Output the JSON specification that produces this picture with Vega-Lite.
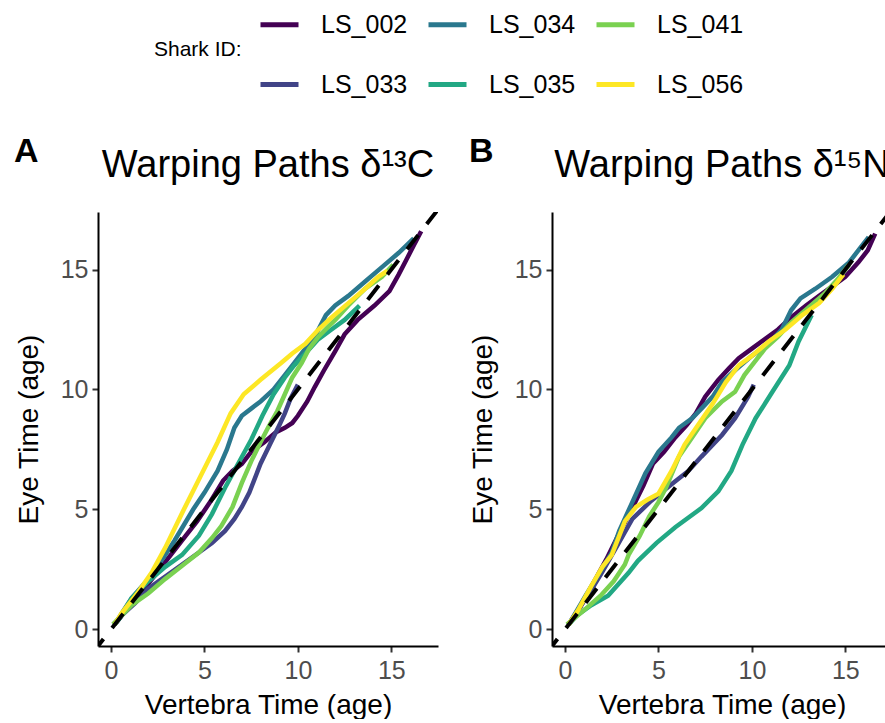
{
  "$schema": "https://vega.github.io/schema/vega-lite/v6.json",
  "padding": {"left": 14, "top": 3, "right": 0, "bottom": 0},
  "background": "white",
  "config": {
    "font": "Liberation Sans",
    "view": {"stroke": null},
    "axis": {"labelFont": "Liberation Sans", "titleFont": "Liberation Sans", "labelFontSize": 25, "labelColor": "#4d4d4d", "titleFontSize": 28, "titleFontWeight": "normal", "titleColor": "black", "domainColor": "black", "domainWidth": 2, "tickColor": "#333333", "tickWidth": 2, "tickSize": 6, "grid": false},
    "axisX": {"labelPadding": 6, "titlePadding": 8},
    "axisY": {"labelPadding": 4, "titlePadding": 17},
    "legend": {
      "orient": "none", "legendX": 56, "legendY": -209,
      "direction": "horizontal", "columns": 3,
      "titleOrient": "left", "titleFontSize": 21, "titleFontWeight": "normal", "titleColor": "black", "titleFont": "Liberation Sans", "titlePadding": 16, "titleAnchor": "middle", "titleBaseline": "middle",
      "labelFontSize": 25, "labelFont": "Liberation Sans", "labelColor": "black", "labelOffset": 20,
      "symbolType": "stroke", "symbolSize": 1444, "symbolStrokeWidth": 5, "symbolOpacity": 1,
      "rowPadding": 25, "columnPadding": 10, "padding": 0
    }
  },
  "data": {"values": [
    {"p":"C","id":"LS_002","x":0.2,"y":0.2},{"p":"C","id":"LS_002","x":1.0,"y":1.0},{"p":"C","id":"LS_002","x":2.0,"y":1.9},{"p":"C","id":"LS_002","x":3.0,"y":2.9},{"p":"C","id":"LS_002","x":4.0,"y":3.9},{"p":"C","id":"LS_002","x":4.6,"y":4.5},{"p":"C","id":"LS_002","x":5.3,"y":5.3},{"p":"C","id":"LS_002","x":6.0,"y":6.2},{"p":"C","id":"LS_002","x":6.5,"y":6.6},{"p":"C","id":"LS_002","x":7.0,"y":6.9},{"p":"C","id":"LS_002","x":7.5,"y":7.4},{"p":"C","id":"LS_002","x":8.2,"y":7.8},{"p":"C","id":"LS_002","x":8.8,"y":8.2},{"p":"C","id":"LS_002","x":9.3,"y":8.4},{"p":"C","id":"LS_002","x":9.7,"y":8.6},{"p":"C","id":"LS_002","x":10.0,"y":8.9},{"p":"C","id":"LS_002","x":10.5,"y":9.5},{"p":"C","id":"LS_002","x":10.9,"y":10.1},{"p":"C","id":"LS_002","x":11.4,"y":10.8},{"p":"C","id":"LS_002","x":12.0,"y":11.6},{"p":"C","id":"LS_002","x":12.5,"y":12.3},{"p":"C","id":"LS_002","x":13.2,"y":12.9},{"p":"C","id":"LS_002","x":14.1,"y":13.5},{"p":"C","id":"LS_002","x":14.9,"y":14.1},{"p":"C","id":"LS_002","x":15.4,"y":14.8},{"p":"C","id":"LS_002","x":15.8,"y":15.4},{"p":"C","id":"LS_002","x":16.2,"y":16.0},{"p":"C","id":"LS_002","x":16.6,"y":16.6},
    {"p":"C","id":"LS_033","x":0.2,"y":0.2},{"p":"C","id":"LS_033","x":0.6,"y":0.6},{"p":"C","id":"LS_033","x":1.3,"y":1.1},{"p":"C","id":"LS_033","x":2.0,"y":1.7},{"p":"C","id":"LS_033","x":2.9,"y":2.2},{"p":"C","id":"LS_033","x":3.8,"y":2.7},{"p":"C","id":"LS_033","x":4.7,"y":3.2},{"p":"C","id":"LS_033","x":5.4,"y":3.6},{"p":"C","id":"LS_033","x":6.1,"y":4.1},{"p":"C","id":"LS_033","x":6.6,"y":4.6},{"p":"C","id":"LS_033","x":7.0,"y":5.1},{"p":"C","id":"LS_033","x":7.4,"y":5.7},{"p":"C","id":"LS_033","x":8.0,"y":6.9},{"p":"C","id":"LS_033","x":8.5,"y":7.7},{"p":"C","id":"LS_033","x":9.0,"y":8.5},{"p":"C","id":"LS_033","x":9.3,"y":9.0},{"p":"C","id":"LS_033","x":9.6,"y":9.6},{"p":"C","id":"LS_033","x":10.0,"y":10.2},
    {"p":"C","id":"LS_034","x":0.2,"y":0.2},{"p":"C","id":"LS_034","x":0.6,"y":0.7},{"p":"C","id":"LS_034","x":1.1,"y":1.3},{"p":"C","id":"LS_034","x":2.0,"y":2.1},{"p":"C","id":"LS_034","x":2.9,"y":3.1},{"p":"C","id":"LS_034","x":3.4,"y":3.7},{"p":"C","id":"LS_034","x":4.4,"y":5.0},{"p":"C","id":"LS_034","x":5.0,"y":5.7},{"p":"C","id":"LS_034","x":5.7,"y":6.6},{"p":"C","id":"LS_034","x":6.2,"y":7.5},{"p":"C","id":"LS_034","x":6.6,"y":8.4},{"p":"C","id":"LS_034","x":7.0,"y":8.9},{"p":"C","id":"LS_034","x":7.5,"y":9.2},{"p":"C","id":"LS_034","x":8.0,"y":9.5},{"p":"C","id":"LS_034","x":8.7,"y":10.0},{"p":"C","id":"LS_034","x":9.3,"y":10.6},{"p":"C","id":"LS_034","x":9.8,"y":11.1},{"p":"C","id":"LS_034","x":10.3,"y":11.6},{"p":"C","id":"LS_034","x":10.8,"y":12.0},{"p":"C","id":"LS_034","x":11.1,"y":12.5},{"p":"C","id":"LS_034","x":11.5,"y":13.1},{"p":"C","id":"LS_034","x":12.0,"y":13.5},{"p":"C","id":"LS_034","x":12.7,"y":13.9},{"p":"C","id":"LS_034","x":13.6,"y":14.5},{"p":"C","id":"LS_034","x":14.5,"y":15.1},{"p":"C","id":"LS_034","x":15.4,"y":15.7},{"p":"C","id":"LS_034","x":16.2,"y":16.3},
    {"p":"C","id":"LS_035","x":0.2,"y":0.2},{"p":"C","id":"LS_035","x":0.5,"y":0.5},{"p":"C","id":"LS_035","x":1.1,"y":1.3},{"p":"C","id":"LS_035","x":2.0,"y":2.0},{"p":"C","id":"LS_035","x":2.9,"y":2.6},{"p":"C","id":"LS_035","x":3.8,"y":3.1},{"p":"C","id":"LS_035","x":4.7,"y":3.9},{"p":"C","id":"LS_035","x":5.4,"y":4.8},{"p":"C","id":"LS_035","x":6.1,"y":5.9},{"p":"C","id":"LS_035","x":6.8,"y":6.9},{"p":"C","id":"LS_035","x":7.5,"y":7.9},{"p":"C","id":"LS_035","x":8.1,"y":8.9},{"p":"C","id":"LS_035","x":8.7,"y":9.8},{"p":"C","id":"LS_035","x":9.3,"y":10.5},{"p":"C","id":"LS_035","x":9.8,"y":11.0},{"p":"C","id":"LS_035","x":10.4,"y":11.5},{"p":"C","id":"LS_035","x":11.1,"y":12.1},{"p":"C","id":"LS_035","x":11.8,"y":12.5},{"p":"C","id":"LS_035","x":12.5,"y":12.9},{"p":"C","id":"LS_035","x":13.3,"y":13.5},
    {"p":"C","id":"LS_041","x":0.1,"y":0.2},{"p":"C","id":"LS_041","x":1.1,"y":1.0},{"p":"C","id":"LS_041","x":2.0,"y":1.5},{"p":"C","id":"LS_041","x":2.9,"y":2.1},{"p":"C","id":"LS_041","x":3.8,"y":2.65},{"p":"C","id":"LS_041","x":4.7,"y":3.2},{"p":"C","id":"LS_041","x":5.4,"y":3.8},{"p":"C","id":"LS_041","x":5.9,"y":4.3},{"p":"C","id":"LS_041","x":6.5,"y":5.1},{"p":"C","id":"LS_041","x":7.0,"y":6.1},{"p":"C","id":"LS_041","x":7.5,"y":7.0},{"p":"C","id":"LS_041","x":8.0,"y":7.8},{"p":"C","id":"LS_041","x":8.4,"y":8.4},{"p":"C","id":"LS_041","x":8.9,"y":9.1},{"p":"C","id":"LS_041","x":9.3,"y":9.8},{"p":"C","id":"LS_041","x":9.7,"y":10.5},{"p":"C","id":"LS_041","x":10.2,"y":11.1},{"p":"C","id":"LS_041","x":10.6,"y":11.7},{"p":"C","id":"LS_041","x":11.1,"y":12.2},{"p":"C","id":"LS_041","x":11.6,"y":12.6},{"p":"C","id":"LS_041","x":12.0,"y":12.9},{"p":"C","id":"LS_041","x":12.7,"y":13.5},{"p":"C","id":"LS_041","x":13.6,"y":14.2},{"p":"C","id":"LS_041","x":14.5,"y":14.7},{"p":"C","id":"LS_041","x":15.1,"y":15.2},
    {"p":"C","id":"LS_056","x":0.2,"y":0.2},{"p":"C","id":"LS_056","x":0.55,"y":0.65},{"p":"C","id":"LS_056","x":1.45,"y":1.55},{"p":"C","id":"LS_056","x":2.2,"y":2.4},{"p":"C","id":"LS_056","x":2.9,"y":3.4},{"p":"C","id":"LS_056","x":3.9,"y":5.0},{"p":"C","id":"LS_056","x":4.8,"y":6.4},{"p":"C","id":"LS_056","x":5.7,"y":7.8},{"p":"C","id":"LS_056","x":6.4,"y":9.0},{"p":"C","id":"LS_056","x":7.1,"y":9.8},{"p":"C","id":"LS_056","x":8.0,"y":10.4},{"p":"C","id":"LS_056","x":9.1,"y":11.1},{"p":"C","id":"LS_056","x":9.7,"y":11.5},{"p":"C","id":"LS_056","x":10.4,"y":11.9},{"p":"C","id":"LS_056","x":11.1,"y":12.5},{"p":"C","id":"LS_056","x":11.8,"y":13.0},{"p":"C","id":"LS_056","x":12.7,"y":13.6},{"p":"C","id":"LS_056","x":13.6,"y":14.2},{"p":"C","id":"LS_056","x":14.3,"y":14.7},{"p":"C","id":"LS_056","x":14.8,"y":14.95},
    {"p":"N","id":"LS_002","x":0.2,"y":0.2},{"p":"N","id":"LS_002","x":0.8,"y":0.9},{"p":"N","id":"LS_002","x":1.5,"y":1.9},{"p":"N","id":"LS_002","x":2.2,"y":2.9},{"p":"N","id":"LS_002","x":2.9,"y":4.0},{"p":"N","id":"LS_002","x":3.5,"y":4.9},{"p":"N","id":"LS_002","x":4.2,"y":6.0},{"p":"N","id":"LS_002","x":4.7,"y":6.9},{"p":"N","id":"LS_002","x":5.3,"y":7.4},{"p":"N","id":"LS_002","x":5.9,"y":8.0},{"p":"N","id":"LS_002","x":6.5,"y":8.5},{"p":"N","id":"LS_002","x":7.0,"y":9.0},{"p":"N","id":"LS_002","x":7.5,"y":9.7},{"p":"N","id":"LS_002","x":8.2,"y":10.4},{"p":"N","id":"LS_002","x":8.8,"y":10.9},{"p":"N","id":"LS_002","x":9.3,"y":11.3},{"p":"N","id":"LS_002","x":10.0,"y":11.7},{"p":"N","id":"LS_002","x":10.7,"y":12.1},{"p":"N","id":"LS_002","x":11.4,"y":12.5},{"p":"N","id":"LS_002","x":12.1,"y":13.0},{"p":"N","id":"LS_002","x":12.9,"y":13.5},{"p":"N","id":"LS_002","x":13.6,"y":13.9},{"p":"N","id":"LS_002","x":14.3,"y":14.3},{"p":"N","id":"LS_002","x":15.0,"y":14.7},{"p":"N","id":"LS_002","x":15.7,"y":15.3},{"p":"N","id":"LS_002","x":16.2,"y":15.8},{"p":"N","id":"LS_002","x":16.6,"y":16.5},
    {"p":"N","id":"LS_033","x":0.2,"y":0.2},{"p":"N","id":"LS_033","x":0.6,"y":0.7},{"p":"N","id":"LS_033","x":1.3,"y":1.5},{"p":"N","id":"LS_033","x":2.0,"y":2.4},{"p":"N","id":"LS_033","x":2.8,"y":3.5},{"p":"N","id":"LS_033","x":3.6,"y":4.6},{"p":"N","id":"LS_033","x":4.6,"y":5.35},{"p":"N","id":"LS_033","x":5.7,"y":6.05},{"p":"N","id":"LS_033","x":6.6,"y":6.6},{"p":"N","id":"LS_033","x":7.3,"y":7.2},{"p":"N","id":"LS_033","x":8.4,"y":8.1},{"p":"N","id":"LS_033","x":9.1,"y":8.8},{"p":"N","id":"LS_033","x":9.8,"y":9.7},{"p":"N","id":"LS_033","x":10.1,"y":10.2},
    {"p":"N","id":"LS_034","x":0.2,"y":0.2},{"p":"N","id":"LS_034","x":0.5,"y":0.6},{"p":"N","id":"LS_034","x":1.1,"y":1.4},{"p":"N","id":"LS_034","x":1.8,"y":2.3},{"p":"N","id":"LS_034","x":2.5,"y":3.2},{"p":"N","id":"LS_034","x":2.9,"y":4.1},{"p":"N","id":"LS_034","x":3.6,"y":5.3},{"p":"N","id":"LS_034","x":4.3,"y":6.5},{"p":"N","id":"LS_034","x":5.0,"y":7.4},{"p":"N","id":"LS_034","x":5.7,"y":8.0},{"p":"N","id":"LS_034","x":6.1,"y":8.4},{"p":"N","id":"LS_034","x":6.8,"y":8.8},{"p":"N","id":"LS_034","x":7.3,"y":9.2},{"p":"N","id":"LS_034","x":7.9,"y":9.7},{"p":"N","id":"LS_034","x":8.4,"y":10.3},{"p":"N","id":"LS_034","x":9.1,"y":10.8},{"p":"N","id":"LS_034","x":10.0,"y":11.4},{"p":"N","id":"LS_034","x":10.9,"y":11.9},{"p":"N","id":"LS_034","x":11.6,"y":12.5},{"p":"N","id":"LS_034","x":12.1,"y":13.3},{"p":"N","id":"LS_034","x":12.6,"y":13.8},{"p":"N","id":"LS_034","x":13.4,"y":14.2},{"p":"N","id":"LS_034","x":14.3,"y":14.7},{"p":"N","id":"LS_034","x":15.2,"y":15.3},{"p":"N","id":"LS_034","x":15.8,"y":15.9},{"p":"N","id":"LS_034","x":16.25,"y":16.35},
    {"p":"N","id":"LS_035","x":0.2,"y":0.2},{"p":"N","id":"LS_035","x":0.6,"y":0.55},{"p":"N","id":"LS_035","x":1.4,"y":1.0},{"p":"N","id":"LS_035","x":2.3,"y":1.4},{"p":"N","id":"LS_035","x":3.4,"y":2.35},{"p":"N","id":"LS_035","x":3.9,"y":2.85},{"p":"N","id":"LS_035","x":4.9,"y":3.6},{"p":"N","id":"LS_035","x":5.9,"y":4.25},{"p":"N","id":"LS_035","x":7.3,"y":5.05},{"p":"N","id":"LS_035","x":8.2,"y":5.75},{"p":"N","id":"LS_035","x":8.9,"y":6.6},{"p":"N","id":"LS_035","x":9.5,"y":7.7},{"p":"N","id":"LS_035","x":10.2,"y":8.8},{"p":"N","id":"LS_035","x":11.1,"y":9.9},{"p":"N","id":"LS_035","x":12.0,"y":11.0},{"p":"N","id":"LS_035","x":12.5,"y":12.0},{"p":"N","id":"LS_035","x":13.2,"y":13.1},
    {"p":"N","id":"LS_041","x":0.1,"y":0.2},{"p":"N","id":"LS_041","x":1.1,"y":0.85},{"p":"N","id":"LS_041","x":1.9,"y":1.4},{"p":"N","id":"LS_041","x":2.6,"y":2.0},{"p":"N","id":"LS_041","x":3.2,"y":2.7},{"p":"N","id":"LS_041","x":3.4,"y":3.1},{"p":"N","id":"LS_041","x":4.0,"y":3.9},{"p":"N","id":"LS_041","x":4.5,"y":4.7},{"p":"N","id":"LS_041","x":5.0,"y":5.3},{"p":"N","id":"LS_041","x":5.4,"y":5.9},{"p":"N","id":"LS_041","x":6.1,"y":7.2},{"p":"N","id":"LS_041","x":6.8,"y":8.0},{"p":"N","id":"LS_041","x":7.5,"y":8.8},{"p":"N","id":"LS_041","x":8.4,"y":9.5},{"p":"N","id":"LS_041","x":9.1,"y":9.9},{"p":"N","id":"LS_041","x":9.6,"y":10.6},{"p":"N","id":"LS_041","x":10.2,"y":11.2},{"p":"N","id":"LS_041","x":10.7,"y":11.7},{"p":"N","id":"LS_041","x":11.4,"y":12.2},{"p":"N","id":"LS_041","x":12.1,"y":12.8},{"p":"N","id":"LS_041","x":13.0,"y":13.4},{"p":"N","id":"LS_041","x":13.9,"y":14.0},{"p":"N","id":"LS_041","x":14.6,"y":14.6},{"p":"N","id":"LS_041","x":15.2,"y":15.2},
    {"p":"N","id":"LS_056","x":0.2,"y":0.2},{"p":"N","id":"LS_056","x":0.7,"y":0.8},{"p":"N","id":"LS_056","x":1.4,"y":1.8},{"p":"N","id":"LS_056","x":2.0,"y":2.6},{"p":"N","id":"LS_056","x":2.5,"y":3.1},{"p":"N","id":"LS_056","x":3.2,"y":4.5},{"p":"N","id":"LS_056","x":3.8,"y":5.1},{"p":"N","id":"LS_056","x":4.4,"y":5.4},{"p":"N","id":"LS_056","x":5.0,"y":5.65},{"p":"N","id":"LS_056","x":5.7,"y":6.6},{"p":"N","id":"LS_056","x":6.4,"y":7.7},{"p":"N","id":"LS_056","x":7.1,"y":8.5},{"p":"N","id":"LS_056","x":7.9,"y":9.4},{"p":"N","id":"LS_056","x":8.6,"y":10.3},{"p":"N","id":"LS_056","x":9.3,"y":11.0},{"p":"N","id":"LS_056","x":10.0,"y":11.4},{"p":"N","id":"LS_056","x":10.9,"y":12.0},{"p":"N","id":"LS_056","x":11.8,"y":12.5},{"p":"N","id":"LS_056","x":12.7,"y":13.1},{"p":"N","id":"LS_056","x":13.6,"y":13.6},{"p":"N","id":"LS_056","x":14.3,"y":14.2},{"p":"N","id":"LS_056","x":14.9,"y":14.8}
  ]},
  "spacing": 31,
  "hconcat": [
    {
      "title": {"text": "A", "anchor": "start", "frame": "group", "fontSize": 34, "fontWeight": "bold", "color": "black", "offset": 0, "dy": 22, "dx": -84},
      "vconcat": [
        {
          "width": 340, "height": 434,
          "title": {"text": "Warping Paths δ¹³C", "fontSize": 38, "fontWeight": "normal", "color": "black", "anchor": "middle", "frame": "group", "offset": 27},
          "layer": [
            {
              "transform": [{"filter": "datum.p === 'C'"}],
              "mark": {"type": "line", "strokeWidth": 4.5, "clip": true},
              "encoding": {
                "x": {"field": "x", "type": "quantitative", "title": "Vertebra Time (age)", "scale": {"domain": [-0.7, 17.5], "nice": false, "zero": false}, "axis": {"values": [0, 5, 10, 15]}},
                "y": {"field": "y", "type": "quantitative", "title": "Eye Time (age)", "scale": {"domain": [-0.7, 17.4], "nice": false, "zero": false}, "axis": {"values": [0, 5, 10, 15]}},
                "color": {"field": "id", "type": "nominal", "title": "Shark ID:", "scale": {"domain": ["LS_002", "LS_034", "LS_041", "LS_033", "LS_035", "LS_056"], "range": ["#440154", "#2A788E", "#7AD151", "#414487", "#22A884", "#FDE725"]}}
              }
            },
            {
              "data": {"values": [{}]},
              "mark": {"type": "rule", "strokeWidth": 4, "strokeDash": [18, 14], "color": "black", "clip": true},
              "encoding": {"x": {"datum": -1, "type": "quantitative"}, "y": {"datum": -1, "type": "quantitative"}, "x2": {"datum": 18}, "y2": {"datum": 18}}
            }
          ]
        }
      ]
    },
    {
      "title": {"text": "B", "anchor": "start", "frame": "group", "fontSize": 34, "fontWeight": "bold", "color": "black", "offset": 0, "dy": 22, "dx": -83},
      "vconcat": [
        {
          "width": 340, "height": 434,
          "title": {"text": "Warping Paths δ¹⁵N", "fontSize": 38, "fontWeight": "normal", "color": "black", "anchor": "middle", "frame": "group", "offset": 27},
          "layer": [
            {
              "transform": [{"filter": "datum.p === 'N'"}],
              "mark": {"type": "line", "strokeWidth": 4.5, "clip": true},
              "encoding": {
                "x": {"field": "x", "type": "quantitative", "title": "Vertebra Time (age)", "scale": {"domain": [-0.7, 17.5], "nice": false, "zero": false}, "axis": {"values": [0, 5, 10, 15]}},
                "y": {"field": "y", "type": "quantitative", "title": "Eye Time (age)", "scale": {"domain": [-0.7, 17.4], "nice": false, "zero": false}, "axis": {"values": [0, 5, 10, 15]}},
                "color": {"field": "id", "type": "nominal", "title": "Shark ID:", "scale": {"domain": ["LS_002", "LS_034", "LS_041", "LS_033", "LS_035", "LS_056"], "range": ["#440154", "#2A788E", "#7AD151", "#414487", "#22A884", "#FDE725"]}}
              }
            },
            {
              "data": {"values": [{}]},
              "mark": {"type": "rule", "strokeWidth": 4, "strokeDash": [18, 14], "color": "black", "clip": true},
              "encoding": {"x": {"datum": -1, "type": "quantitative"}, "y": {"datum": -1, "type": "quantitative"}, "x2": {"datum": 18}, "y2": {"datum": 18}}
            }
          ]
        }
      ]
    }
  ]
}
